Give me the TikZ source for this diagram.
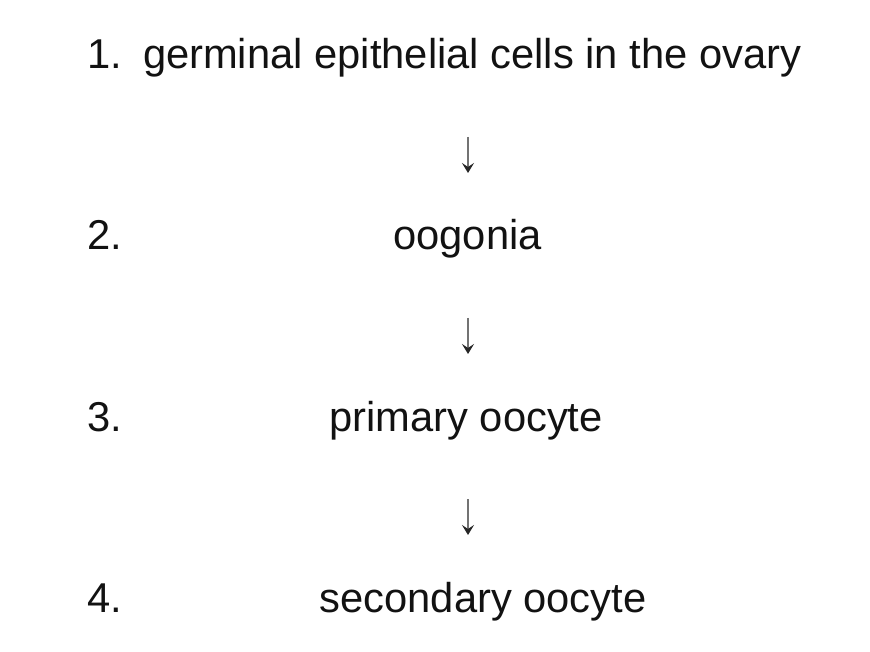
\documentclass[tikz,border=0pt]{standalone}
\usepackage{fontspec}
\setmainfont{Liberation Sans}
\usetikzlibrary{arrows.meta}
\begin{document}
\begin{tikzpicture}[x=1pt,y=-1pt,
  lbl/.style={inner sep=0pt,outer sep=0pt,text=black!93,font=\fontsize{41.7}{50}\selectfont},
  num/.style={lbl,anchor=base west},
  stage/.style={lbl,anchor=base},
  flowarrow/.style={draw=black!55,line width=1.6pt,-{Stealth[length=10pt,width=12pt,inset=4pt,black!85]}}]
\fill[white] (0,0) rectangle (870,652);
\useasboundingbox (0,0) rectangle (870,652);
% numbers
\node[num] (n1) at (87,69) {1.};
\node[num] (n2) at (87,250) {2.};
\node[num] (n3) at (87,431) {3.};
\node[num] (n4) at (87,612) {4.};
% stages
\node[lbl,anchor=base west] (s1) at (143,69) {germinal epithelial cells in the ovary};
\node[stage] (s2) at (467.5,250) {oogonia};
\node[stage] (s3) at (466,431) {primary oocyte};
\node[stage] (s4) at (483,612) {secondary oocyte};
% arrows
\coordinate (a1t) at (468,137);
\coordinate (a1b) at (468,173);
\coordinate (a2t) at (468,318);
\coordinate (a2b) at (468,354);
\coordinate (a3t) at (468,499);
\coordinate (a3b) at (468,535);
\draw[flowarrow] (a1t) -- (a1b);
\draw[flowarrow] (a2t) -- (a2b);
\draw[flowarrow] (a3t) -- (a3b);
\end{tikzpicture}
\end{document}
